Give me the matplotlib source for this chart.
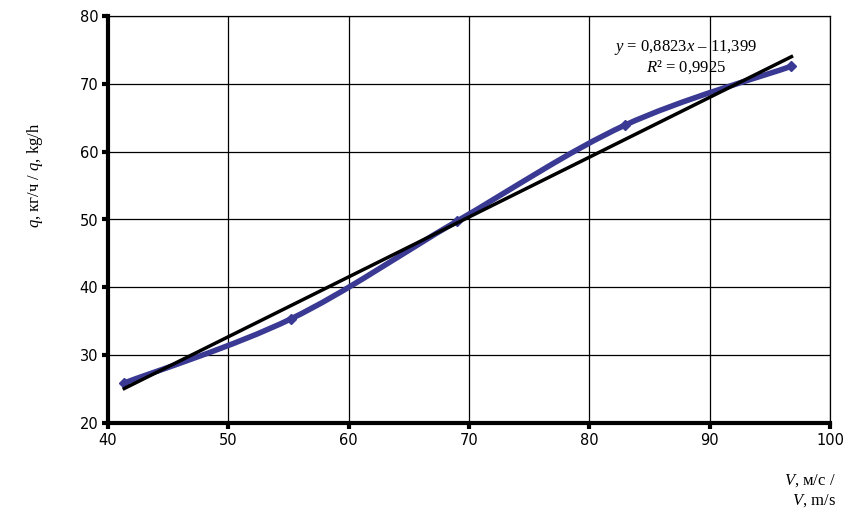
import matplotlib
matplotlib.use("Agg")
import matplotlib.pyplot as plt
import numpy as np
from matplotlib.path import Path
from matplotlib.patches import PathPatch

plt.rcParams["mathtext.fontset"] = "custom"
plt.rcParams["mathtext.it"] = "Liberation Serif:italic"
plt.rcParams["mathtext.rm"] = "Liberation Serif"

# measured points
speed = [41.35, 55.2, 69.0, 82.95, 96.8]
flow = [25.9, 35.35, 49.75, 63.9, 72.6]

# linear trend reported on the chart
slope = 0.8823
intercept = -11.399
r_squared = 0.9925

x_ticks = [40, 50, 60, 70, 80, 90, 100]
y_ticks = [20, 30, 40, 50, 60, 70, 80]

series_color = "#3a3a94"


def smooth_path(xs, ys, tension=1 / 6):
    # Catmull-Rom style bezier through the points, like a spreadsheet smoothed line
    pts = list(zip(xs, ys))
    verts = [pts[0]]
    codes = [Path.MOVETO]
    for i in range(len(pts) - 1):
        p0 = pts[i - 1] if i > 0 else pts[i]
        p1 = pts[i]
        p2 = pts[i + 1]
        p3 = pts[i + 2] if i + 2 < len(pts) else pts[i + 1]
        c1 = (p1[0] + (p2[0] - p0[0]) * tension, p1[1] + (p2[1] - p0[1]) * tension)
        c2 = (p2[0] - (p3[0] - p1[0]) * tension, p2[1] - (p3[1] - p1[1]) * tension)
        verts += [c1, c2, p2]
        codes += [Path.CURVE4] * 3
    return Path(verts, codes)


fig = plt.figure(figsize=(8.66, 5.24), dpi=100)
ax = fig.add_axes([108 / 866, 1 - 423 / 524, 722 / 866, 407 / 524])

ax.set_xlim(40, 100)
ax.set_ylim(20, 80)
ax.set_xticks(x_ticks)
ax.set_yticks(y_ticks)
ax.grid(True, color="black", linewidth=0.9)
ax.set_axisbelow(True)

for side in ["top", "right"]:
    ax.spines[side].set_linewidth(0.9)
for side in ["left", "bottom"]:
    ax.spines[side].set_linewidth(3)

ax.tick_params(direction="out", length=4, width=3, labelsize=10.5, pad=3)
for lab in ax.get_xticklabels() + ax.get_yticklabels():
    lab.set_family("DejaVu Sans")

patch = PathPatch(smooth_path(speed, flow), facecolor="none", edgecolor=series_color,
                  linewidth=4, capstyle="round", joinstyle="round", zorder=3)
ax.add_patch(patch)
ax.plot(speed, flow, linestyle="none", marker="D", markersize=5.5, color=series_color, zorder=4)

trend_x = np.array([speed[0], speed[-1]])
ax.plot(trend_x, slope * trend_x + intercept, color="black", linewidth=2.5, zorder=5)

serif = "Liberation Serif"
ax.text(88.0, 75.4, r"$\mathit{y}$ = 0,8823$\mathit{x}$ – 11,399", family=serif, fontsize=12,
        ha="center", va="center", zorder=6)
ax.text(88.05, 72.5, r"$\mathit{R}$² = 0,9925", family=serif, fontsize=12,
        ha="center", va="center", zorder=6)

fig.text(836 / 866, 1 - 481 / 524, r"$\mathit{V}$, м/с /", family=serif, fontsize=12,
         ha="right", va="center")
fig.text(836 / 866, 1 - 501 / 524, r"$\mathit{V}$, m/s", family=serif, fontsize=12,
         ha="right", va="center")
fig.text(35 / 866, 1 - 175 / 524, r"$\mathit{q}$, кг/ч / $\mathit{q}$, kg/h", family=serif,
         fontsize=12, rotation=90, ha="center", va="center")

fig.savefig("out.png", dpi=100)
